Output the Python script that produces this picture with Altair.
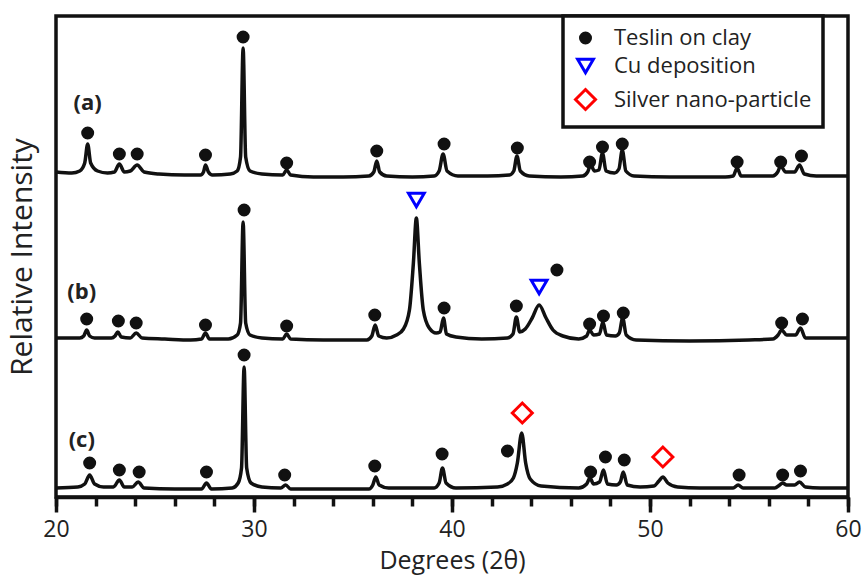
import altair as alt
import pandas as pd

# ---- XRD patterns: 2θ (degrees) and intensity above each pattern's own baseline (a.u.)
a_theta = [20.0, 20.8, 21.2, 21.45, 21.6, 21.75, 22.1, 22.6, 22.95, 23.2, 23.45, 23.75, 24.1, 24.45,
           25.2, 26.5, 27.3, 27.45, 27.55, 27.7, 27.9, 28.8, 29.15, 29.32, 29.45, 29.58, 29.8, 30.4,
           31.45, 31.65, 31.85, 33.0, 34.5, 35.8, 36.05, 36.2, 36.35, 36.7, 38.0, 39.1, 39.35, 39.55,
           39.75, 40.3, 41.8, 42.9, 43.12, 43.28, 43.45, 43.9, 45.5, 46.6, 46.85, 47.0, 47.2, 47.42,
           47.6, 47.78, 48.2, 48.43, 48.6, 48.78, 49.2, 51.0, 53.8, 54.2, 54.4, 54.6, 56.2, 56.45,
           56.6, 56.85, 57.3, 57.55, 57.8, 58.4, 60.0]
a_int = [3, 2, 4, 12, 31, 12, 4, 2, 3, 11, 3, 4, 10, 3,
         1, 0, 0, 3, 10, 3, 0, 1, 4, 18, 127, 18, 4, 1,
         0, 5, 0, -2, -2, -1, 3, 14, 3, -1, -2, -1, 4, 21,
         4, -1, -1, 0, 4, 19, 4, -1, -2, -1, 3, 10, 4, 5,
         22, 4, 2, 6, 25, 4, -1, -2, -2, -1, 7, -1, -1, 3,
         9, 3, 3, 10, 1, -1, -1]

b_theta = [20.0, 21.2, 21.4, 21.55, 21.7, 21.95, 22.8, 22.98, 23.12, 23.3, 23.75, 24.05, 24.35, 25.5,
           26.8, 27.35, 27.55, 27.75, 28.7, 29.15, 29.32, 29.45, 29.58, 29.8, 30.4, 31.45, 31.65,
           31.85, 33.5, 35.7, 35.95, 36.12, 36.3, 36.7, 37.2, 37.55, 37.85, 38.05, 38.2, 38.35,
           38.55, 38.85, 39.2, 39.4, 39.57, 39.72, 40.2, 41.5, 42.8, 43.08, 43.25, 43.42, 43.7,
           44.05, 44.4, 44.75, 45.1, 45.6, 46.4, 46.8, 46.95, 47.15, 47.45, 47.62, 47.8, 48.25,
           48.45, 48.62, 48.8, 49.3, 52.0, 55.0, 56.2, 56.47, 56.65, 56.9, 57.35, 57.6, 57.85,
           58.6, 60.0]
b_int = [0, 0, 2, 8, 2, 0, 0, 2, 6, 1, 0, 5, 0, -1,
         -2, -1, 5, -1, -1, 3, 15, 116, 15, 3, 0, -1, 4,
         -1, -2, -2, 2, 13, 2, 0, 3, 9, 28, 75, 120, 75,
         28, 10, 5, 6, 20, 4, 1, -1, 0, 4, 21, 6, 9,
         20, 33, 20, 8, 2, -1, 2, 8, 3, 4, 16, 3, 2,
         5, 20, 3, -2, -3, -2, -1, 3, 8, 3, 3, 10, 0,
         0, 0]

c_theta = [20.0, 21.1, 21.45, 21.7, 21.95, 22.4, 22.9, 23.2, 23.45, 23.85, 24.15, 24.45, 26.0, 27.35,
           27.6, 27.85, 28.9, 29.2, 29.37, 29.5, 29.63, 29.85, 30.4, 31.35, 31.6, 31.85, 34.0, 35.8,
           36.0, 36.15, 36.32, 36.8, 39.1, 39.35, 39.52, 39.7, 40.2, 42.3, 42.8, 43.1, 43.3, 43.52,
           43.72, 43.95, 44.5, 46.4, 46.8, 46.97, 47.15, 47.45, 47.65, 47.85, 48.3, 48.5, 48.65,
           48.85, 49.5, 50.2, 50.45, 50.65, 50.9, 51.4, 52.5, 54.2, 54.45, 54.7, 56.3, 56.55, 56.7,
           56.9, 57.3, 57.55, 57.85, 58.6, 60.0]
c_int = [0, 1, 4, 13, 4, 1, 1, 8, 1, 1, 6, 0, -1, -1,
         5, -1, 0, 5, 20, 121, 20, 5, 1, 0, 3, -1, -1, -1,
         3, 11, 3, 0, 0, 5, 20, 5, 0, 1, 4, 10, 25, 55,
         25, 9, 2, 0, 4, 10, 4, 6, 18, 4, 3, 6, 16,
         3, 1, 2, 7, 11, 5, 1, 0, 0, 3, 0, 0, 3, 5,
         3, 3, 6, 1, 0, 0]

# vertical offsets that stack the three patterns
trace_names = ["(a)", "(b)", "(c)"]
trace_offsets = [322, 159, 9]

# ---- phase markers (stacked intensity, a.u.)
teslin_theta = [21.6, 23.2, 24.1, 27.55, 29.45, 31.65, 36.2, 39.6, 43.3, 46.95, 47.6, 48.6, 54.4, 56.6, 57.65,
                21.55, 23.15, 24.05, 27.55, 29.5, 31.65, 36.1, 39.6, 43.25, 45.3, 46.95, 47.65, 48.65, 56.65, 57.7,
                21.7, 23.2, 24.2, 27.6, 29.5, 31.55, 36.1, 39.5, 42.8, 47.0, 47.75, 48.7, 54.5, 56.7, 57.6]
teslin_value = [364, 343, 343, 342, 460, 334, 346, 353, 349, 335, 350, 353, 335, 335, 341,
                178, 176, 174, 172, 287, 171, 182, 189, 191, 227, 173, 181, 184, 174, 178,
                34, 27, 25, 25, 142, 22, 31, 43, 46, 25, 40, 37, 22, 22, 26]
cu_theta = [38.2, 44.4]
cu_value = [297, 210]
ag_theta = [43.55, 50.65]
ag_value = [84, 40]

# pattern labels
label_theta = [21.6, 21.3, 21.3]
label_value = [394, 205, 57]

kinds = ["Teslin on clay", "Cu deposition", "Silver nano-particle"]

# ---- tables
frames = []
for name, off, th, it in zip(trace_names, trace_offsets,
                             [a_theta, b_theta, c_theta], [a_int, b_int, c_int]):
    frames.append(pd.DataFrame({"trace": name, "theta": th, "value": [off + v for v in it]}))
lines_df = pd.concat(frames, ignore_index=True)

markers_df = pd.concat([
    pd.DataFrame({"kind": kinds[0], "theta": teslin_theta, "value": teslin_value}),
    pd.DataFrame({"kind": kinds[1], "theta": cu_theta, "value": cu_value}),
    pd.DataFrame({"kind": kinds[2], "theta": ag_theta, "value": ag_value}),
], ignore_index=True)

labels_df = pd.DataFrame({"label": trace_names, "theta": label_theta, "value": label_value})

FONT = "Open Sans"
INK = "#111111"
TEXT = "#222222"

x_scale = alt.Scale(domain=[20, 60], nice=False, zero=False)
y_scale = alt.Scale(domain=[0, 481], nice=False, zero=False)

y_axis = alt.Axis(title="Relative Intensity", labels=False, ticks=False, domain=False, grid=False,
                  titleFontSize=30, titleFont=FONT, titleFontWeight="normal", titleColor=TEXT,
                  titlePadding=19)

major_axis = alt.Axis(orient="bottom", values=[20, 30, 40, 50, 60], tickSize=15, tickWidth=3.5,
                      tickColor=INK, domainColor=INK, domainWidth=3.5, grid=False,
                      labelFontSize=23, labelFont=FONT, labelColor=TEXT, labelPadding=6,
                      labelFlush=False, title="Degrees (2θ)", titleFontSize=25, titleFont=FONT,
                      titleFontWeight="normal", titleColor=TEXT, titlePadding=7)

minor_axis = alt.Axis(orient="bottom", values=list(range(20, 61, 2)), tickSize=9, tickWidth=3.5,
                      tickColor=INK, domain=False, grid=False, labels=False, title=None)

lines = alt.Chart(lines_df).mark_line(
    color=INK, strokeWidth=3.5, interpolate="monotone", strokeJoin="round", strokeCap="round", clip=True
).encode(
    x=alt.X("theta:Q", scale=x_scale, axis=major_axis),
    y=alt.Y("value:Q", scale=y_scale, axis=y_axis),
    detail="trace:N",
)

markers = alt.Chart(markers_df).mark_point(strokeWidth=3, opacity=1).encode(
    x=alt.X("theta:Q", scale=x_scale, axis=minor_axis),
    y=alt.Y("value:Q", scale=y_scale, axis=y_axis),
    fill=alt.Fill("kind:N", title=None,
                  scale=alt.Scale(domain=kinds, range=[INK, "transparent", "transparent"])),
    stroke=alt.Stroke("kind:N", title=None,
                      scale=alt.Scale(domain=kinds, range=[INK, "#0000ff", "#ff0000"])),
    shape=alt.Shape("kind:N", title=None,
                    scale=alt.Scale(domain=kinds, range=["circle", "triangle-down", "diamond"])),
    size=alt.Size("kind:N", title=None,
                  scale=alt.Scale(domain=kinds, range=[100, 400, 480])),
)

labels = alt.Chart(labels_df).mark_text(
    font=FONT, fontSize=22, fontWeight="bold", color=TEXT
).encode(
    x=alt.X("theta:Q", scale=x_scale, axis=None),
    y=alt.Y("value:Q", scale=y_scale, axis=y_axis),
    text="label:N",
)

chart = alt.layer(lines, markers, labels).resolve_axis(x="independent").properties(
    width=792,
    height=481,
    autosize=alt.AutoSizeParams(type="none"),
    padding={"left": 56, "top": 16, "right": 18, "bottom": 79},
).configure_view(
    stroke=INK, strokeWidth=3.5
).configure_legend(
    orient="none", legendX=507, legendY=0,
    strokeColor=INK, strokeWidth=3.5, fillColor="white",
    padding=11, rowPadding=4, labelOffset=17, labelLimit=400,
    labelFont=FONT, labelFontSize=22, labelColor=TEXT,
    symbolStrokeWidth=3,
)

chart.save("out.html", embed_options={"renderer": "svg", "actions": False})
